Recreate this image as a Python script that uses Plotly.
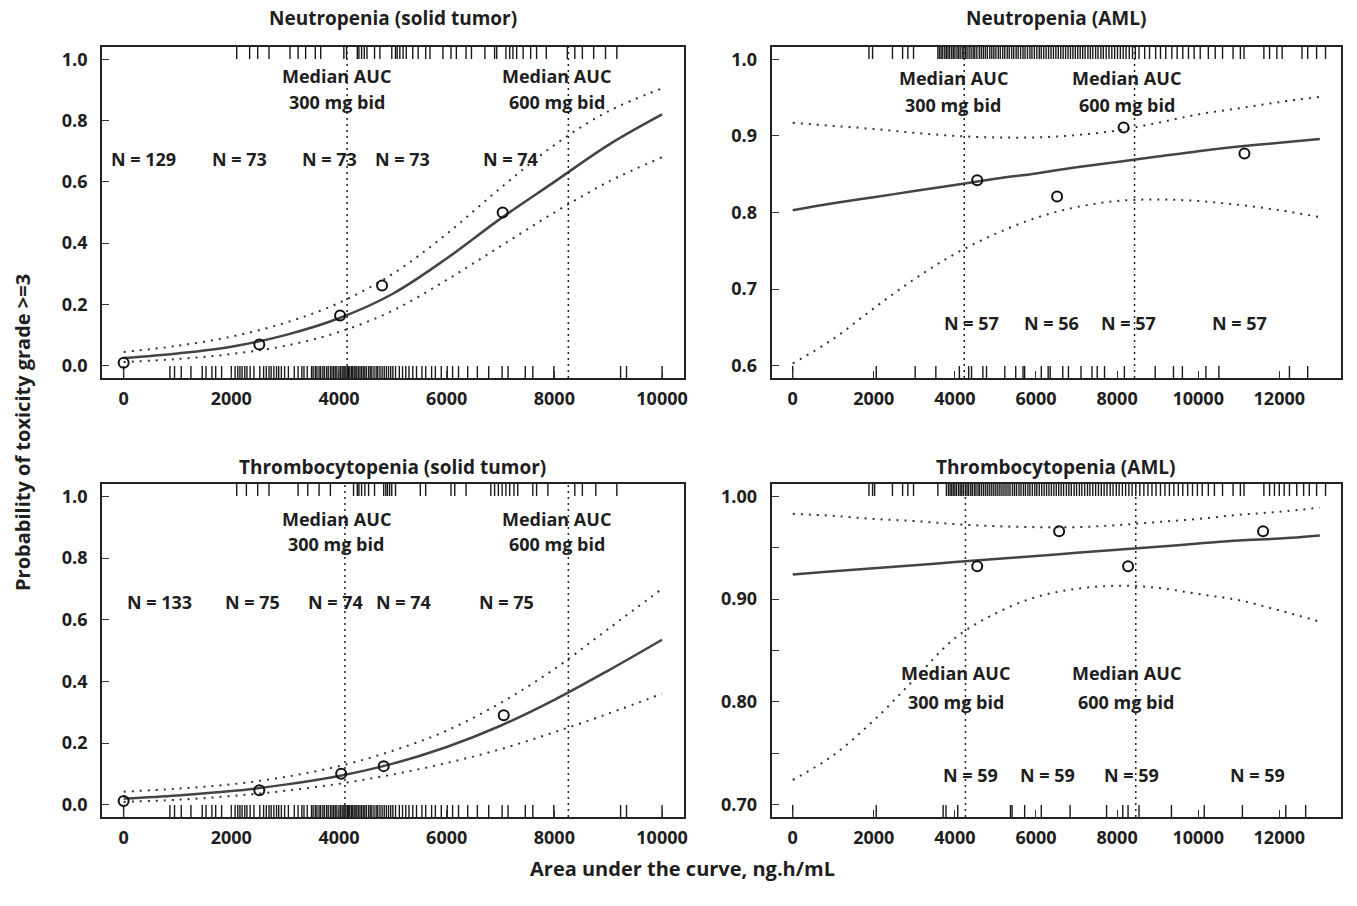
import plotly.graph_objects as go

# ---------------- DATA ----------------
# Fitted curves (at regular AUC steps)
solid_x = [0, 1000, 2000, 3000, 4000, 5000, 6000, 7000, 8000, 9000, 10000]
neut_solid_fit = [0.025, 0.040, 0.062, 0.10, 0.155, 0.235, 0.35, 0.48, 0.60, 0.72, 0.82]
neut_solid_hi = [0.045, 0.065, 0.095, 0.14, 0.205, 0.30, 0.43, 0.58, 0.72, 0.83, 0.905]
neut_solid_lo = [0.012, 0.022, 0.038, 0.065, 0.11, 0.18, 0.28, 0.39, 0.50, 0.60, 0.68]
thr_solid_fit = [0.020, 0.030, 0.044, 0.065, 0.093, 0.133, 0.187, 0.256, 0.34, 0.435, 0.535]
thr_solid_hi = [0.042, 0.052, 0.066, 0.09, 0.125, 0.175, 0.24, 0.33, 0.44, 0.57, 0.70]
thr_solid_lo = [0.009, 0.016, 0.028, 0.045, 0.068, 0.098, 0.135, 0.18, 0.235, 0.295, 0.36]

aml_x = [0, 1000, 2000, 3000, 4000, 5000, 6000, 7000, 8000, 9000, 10000, 11000, 12000, 13000]
neut_aml_fit = [0.803, 0.812, 0.820, 0.828, 0.836, 0.844, 0.851, 0.859, 0.866, 0.873, 0.880, 0.886, 0.891, 0.896]
neut_aml_hi = [0.917, 0.913, 0.909, 0.904, 0.900, 0.898, 0.898, 0.901, 0.907, 0.917, 0.928, 0.936, 0.944, 0.951]
neut_aml_lo = [0.603, 0.635, 0.675, 0.713, 0.746, 0.772, 0.793, 0.807, 0.815, 0.817, 0.815, 0.810, 0.803, 0.794]
thr_aml_fit = [0.924, 0.927, 0.930, 0.933, 0.936, 0.939, 0.942, 0.945, 0.948, 0.951, 0.954, 0.957, 0.959, 0.962]
thr_aml_hi = [0.983, 0.981, 0.978, 0.976, 0.973, 0.971, 0.970, 0.970, 0.972, 0.975, 0.978, 0.982, 0.985, 0.989]
thr_aml_lo = [0.724, 0.748, 0.782, 0.822, 0.862, 0.886, 0.902, 0.910, 0.913, 0.911, 0.905, 0.899, 0.889, 0.878]

# Observed proportions per AUC group
neut_solid_obs_x = [0, 2520, 4020, 4800, 7040]
neut_solid_obs_y = [0.01, 0.069, 0.164, 0.262, 0.50]
thr_solid_obs_x = [0, 2520, 4040, 4830, 7060]
thr_solid_obs_y = [0.012, 0.047, 0.10, 0.125, 0.29]
neut_aml_obs_x = [4550, 6520, 8160, 11140]
neut_aml_obs_y = [0.842, 0.821, 0.911, 0.877]
thr_aml_obs_x = [4550, 6570, 8270, 11600]
thr_aml_obs_y = [0.932, 0.966, 0.932, 0.966]

# Median AUC reference lines
neut_solid_medians = [4150, 8260]
thr_solid_medians = [4110, 8260]
neut_aml_medians = [4230, 8430]
thr_aml_medians = [4260, 8460]

# N labels
neut_solid_n = ["N = 129", "N = 73", "N = 73", "N = 73", "N = 74"]
thr_solid_n = ["N = 133", "N = 75", "N = 74", "N = 74", "N = 75"]
neut_aml_n = ["N = 57", "N = 56", "N = 57", "N = 57"]
thr_aml_n = ["N = 59", "N = 59", "N = 59", "N = 59"]

# Individual AUCs (rugs): events on top, non-events at bottom
neut_solid_events = [2100, 2340, 2490, 2700, 3090, 3240, 3380, 3560, 3660, 4090, 4140, 4340, 4370,
                     4420, 4470, 4520, 4660, 4760, 4980, 5050, 5080, 5130, 5190, 5250, 5370, 5470,
                     5610, 5690, 5930, 6080, 6180, 6360, 6460, 6710, 6890, 6930, 7100, 7170, 7230,
                     7300, 7420, 7560, 7670, 7850, 8240, 8380, 8520, 8730, 8950, 9160]
solid_nonevents = [0, 860, 945, 1070, 1250, 1460, 1530, 1640, 1710, 1820, 2000, 2070, 2120, 2160,
                   2200, 2250, 2290, 2350, 2420, 2530, 2600, 2650, 2700, 2740, 2790, 2840, 2880,
                   2930, 2990, 3060, 3170, 3240, 3310, 3350, 3410, 3490, 3520, 3560, 3590, 3630,
                   3660, 3700, 3730, 3770, 3800, 3840, 3870, 3900, 3930, 3960, 4000, 4030, 4060,
                   4090, 4110, 4130, 4160, 4180, 4200, 4230, 4250, 4280, 4300, 4330, 4360, 4390,
                   4420, 4450, 4480, 4510, 4550, 4580, 4610, 4650, 4690, 4720, 4760, 4800, 4840,
                   4880, 4920, 4960, 5000, 5050, 5120, 5180, 5240, 5300, 5370, 5440, 5540, 5610,
                   5720, 5790, 5900, 6010, 6110, 6220, 6390, 6570, 6780, 7030, 7140, 7460, 7600,
                   7990, 9230, 9340, 10000]
thr_solid_events = [2100, 2280, 2490, 2700, 3240, 3420, 3630, 3840, 4270, 4340, 4370, 4420, 4480,
                    4550, 4660, 4830, 4870, 4900, 4940, 4980, 5050, 5510, 5610, 6080, 6150, 6360,
                    6820, 6890, 6960, 7030, 7100, 7170, 7250, 7320, 7600, 7670, 7880, 8380, 8520,
                    8770, 9160]
neut_aml_events = [1880, 1970, 2460, 2710, 2840, 2980, 3580, 3620, 3660, 3700, 3750, 3790, 3830,
                   3870, 3920, 3960, 4000, 4050, 4090, 4130, 4180, 4220, 4260, 4300, 4350, 4400,
                   4450, 4490, 4540, 4600, 4650, 4700, 4750, 4800, 4860, 4910, 4960, 5010, 5070,
                   5120, 5180, 5230, 5290, 5340, 5400, 5450, 5510, 5560, 5620, 5680, 5730, 5790,
                   5850, 5900, 5960, 6020, 6080, 6130, 6190, 6250, 6310, 6370, 6430, 6490, 6550,
                   6610, 6670, 6730, 6790, 6850, 6910, 6970, 7030, 7090, 7150, 7210, 7280, 7340,
                   7400, 7470, 7530, 7600, 7660, 7730, 7800, 7870, 7940, 8010, 8080, 8150, 8220,
                   8300, 8380, 8450, 8540, 8680, 8800, 8950, 9070, 9200, 9350, 9480, 9620, 9760,
                   9900, 10050, 10250, 10420, 10600, 10860, 11040, 11130, 11620, 11760, 11940,
                   12070, 12560, 12700, 12920, 13140]
neut_aml_nonevents = [0, 2060, 3020, 3530, 4110, 4340, 4410, 4690, 4780, 5230, 5500, 5680, 5720,
                      6130, 6300, 6350, 6660, 6800, 7110, 7380, 7510, 7690, 8180, 8940, 9390, 9610,
                      10190, 10510, 12250, 12700]
thr_aml_events = [1880, 1970, 2020, 2460, 2710, 2840, 2980, 3580, 3790, 3840, 3880, 3920, 3960,
                  4000, 4040, 4090, 4130, 4170, 4210, 4260, 4300, 4340, 4390, 4430, 4480, 4520,
                  4570, 4610, 4660, 4710, 4760, 4810, 4860, 4910, 4960, 5010, 5060, 5110, 5160,
                  5210, 5260, 5310, 5360, 5420, 5470, 5520, 5580, 5630, 5690, 5740, 5800, 5850,
                  5910, 5970, 6020, 6080, 6140, 6200, 6260, 6320, 6380, 6440, 6500, 6560, 6620,
                  6680, 6750, 6810, 6870, 6940, 7000, 7070, 7130, 7200, 7270, 7330, 7400, 7470,
                  7540, 7610, 7680, 7750, 7830, 7900, 7980, 8050, 8130, 8210, 8290, 8370, 8460,
                  8560, 8660, 8760, 8860, 8960, 9070, 9180, 9290, 9400, 9510, 9620, 9740, 9860,
                  9980, 10100, 10250, 10400, 10600, 10860, 11040, 11130, 11620, 11760, 11880,
                  12000, 12120, 12250, 12430, 12600, 12740, 12920, 13140]
thr_aml_nonevents = [0, 2060, 3710, 3780, 4070, 5370, 5410, 5720, 6130, 6840, 7740, 8140, 8270,
                     8540, 9340, 10150, 11090, 12160, 12650]

panel_titles = ["Neutropenia (solid tumor)", "Neutropenia (AML)",
                "Thrombocytopenia (solid tumor)", "Thrombocytopenia (AML)"]

# ---------------- LAYOUT / STYLE ----------------
W, H = 1357, 906
FONT = "Open Sans"
WEIGHT = 700
TXT = "#1e1e1e"
LINE = "#444444"

panels = [
    dict(ax="x", ay="y", xr=[-400, 10400], yr=[-0.04, 1.04],
         xdom=[102.4, 685.6], ydom=[47, 378],
         xt=[0, 2000, 4000, 6000, 8000, 10000],
         yt=[0.0, 0.2, 0.4, 0.6, 0.8, 1.0], ytt=["0.0", "0.2", "0.4", "0.6", "0.8", "1.0"],
         fx=solid_x, fit=neut_solid_fit, hi=neut_solid_hi, lo=neut_solid_lo,
         ox=neut_solid_obs_x, oy=neut_solid_obs_y, med=neut_solid_medians,
         ev=neut_solid_events, nev=solid_nonevents,
         n=neut_solid_n, nx=[370, 2150, 3815, 5185, 7185], ny=0.675,
         mx=[3960, 8040], my=[0.944, 0.859]),
    dict(ax="x2", ay="y2", xr=[-520, 13520], yr=[0.584, 1.016],
         xdom=[773.9, 1344.9], ydom=[47, 378],
         xt=[0, 2000, 4000, 6000, 8000, 10000, 12000],
         yt=[0.6, 0.7, 0.8, 0.9, 1.0], ytt=["0.6", "0.7", "0.8", "0.9", "1.0"],
         fx=aml_x, fit=neut_aml_fit, hi=neut_aml_hi, lo=neut_aml_lo,
         ox=neut_aml_obs_x, oy=neut_aml_obs_y, med=neut_aml_medians,
         ev=neut_aml_events, nev=neut_aml_nonevents,
         n=neut_aml_n, nx=[4400, 6390, 8290, 11020], ny=0.656,
         mx=[3960, 8240], my=[0.975, 0.940]),
    dict(ax="x3", ay="y3", xr=[-400, 10400], yr=[-0.04, 1.04],
         xdom=[102.4, 685.6], ydom=[484, 817],
         xt=[0, 2000, 4000, 6000, 8000, 10000],
         yt=[0.0, 0.2, 0.4, 0.6, 0.8, 1.0], ytt=["0.0", "0.2", "0.4", "0.6", "0.8", "1.0"],
         fx=solid_x, fit=thr_solid_fit, hi=thr_solid_hi, lo=thr_solid_lo,
         ox=thr_solid_obs_x, oy=thr_solid_obs_y, med=thr_solid_medians,
         ev=thr_solid_events, nev=solid_nonevents,
         n=thr_solid_n, nx=[670, 2390, 3940, 5190, 7110], ny=0.656,
         mx=[3950, 8040], my=[0.925, 0.844]),
    dict(ax="x4", ay="y4", xr=[-520, 13520], yr=[0.688, 1.012],
         xdom=[773.9, 1344.9], ydom=[484, 817],
         xt=[0, 2000, 4000, 6000, 8000, 10000, 12000],
         yt=[0.70, 0.75, 0.80, 0.85, 0.90, 0.95, 1.00],
         ytt=["0.70", "", "0.80", "", "0.90", "", "1.00"],
         fx=aml_x, fit=thr_aml_fit, hi=thr_aml_hi, lo=thr_aml_lo,
         ox=thr_aml_obs_x, oy=thr_aml_obs_y, med=thr_aml_medians,
         ev=thr_aml_events, nev=thr_aml_nonevents,
         n=thr_aml_n, nx=[4380, 6290, 8350, 11470], ny=0.729,
         mx=[4020, 8220], my=[0.828, 0.800]),
]

fig = go.Figure()
annotations = []
shapes = []
layout_axes = {}
afont = dict(family=FONT, size=18, color=TXT, weight=WEIGHT)
tfont = dict(family=FONT, size=19, color=TXT, weight=WEIGHT)

for i, p in enumerate(panels):
    xa, ya = p["ax"], p["ay"]
    y0, y1 = p["yr"]
    span = y1 - y0
    rug_h = 0.036 * span

    # rugs
    rx, ry = [], []
    for v in p["ev"]:
        rx += [v, v, None]
        ry += [y1, y1 - rug_h, None]
    for v in p["nev"]:
        rx += [v, v, None]
        ry += [y0, y0 + rug_h, None]
    fig.add_trace(go.Scatter(x=rx, y=ry, mode="lines", xaxis=xa, yaxis=ya,
                             line=dict(color="#1a1a1a", width=1.4), hoverinfo="skip",
                             showlegend=False))
    # CI
    for arr in (p["hi"], p["lo"]):
        fig.add_trace(go.Scatter(x=p["fx"], y=arr, mode="lines", xaxis=xa, yaxis=ya,
                                 line=dict(color="#333333", width=2, dash="2px,6px",
                                           shape="spline"),
                                 showlegend=False))
    # fit
    fig.add_trace(go.Scatter(x=p["fx"], y=p["fit"], mode="lines", xaxis=xa, yaxis=ya,
                             line=dict(color=LINE, width=2.5, shape="spline"),
                             showlegend=False))
    # observed
    fig.add_trace(go.Scatter(x=p["ox"], y=p["oy"], mode="markers", xaxis=xa, yaxis=ya,
                             marker=dict(symbol="circle-open", size=10, color="#111111",
                                         line=dict(width=2, color="#111111")),
                             showlegend=False))
    # median lines
    for m in p["med"]:
        shapes.append(dict(type="line", xref=xa, yref=ya + " domain", x0=m, x1=m, y0=0, y1=1,
                           line=dict(color="#222222", width=1.5, dash="2px,4px")))
    # texts
    for lab, x in zip(p["n"], p["nx"]):
        annotations.append(dict(x=x, y=p["ny"], xref=xa, yref=ya, text=lab, showarrow=False,
                                font=afont, xanchor="center", yanchor="middle"))
    for k, mx in enumerate(p["mx"]):
        annotations.append(dict(x=mx, y=p["my"][0], xref=xa, yref=ya, text="Median AUC",
                                showarrow=False, font=afont, yanchor="middle"))
        annotations.append(dict(x=mx, y=p["my"][1], xref=xa, yref=ya,
                                text=("300 mg bid" if k == 0 else "600 mg bid"),
                                showarrow=False, font=afont, yanchor="middle"))
    # title
    xd = [p["xdom"][0] / W, p["xdom"][1] / W]
    yd = [1 - p["ydom"][1] / H, 1 - p["ydom"][0] / H]
    annotations.append(dict(x=(xd[0] + xd[1]) / 2, y=1 - (18 if i < 2 else 467) / H,
                            xref="paper", yref="paper", text=panel_titles[i], showarrow=False,
                            font=tfont, xanchor="center", yanchor="middle"))

    tickfont = dict(family=FONT, size=18, color=TXT, weight=WEIGHT)
    common = dict(showgrid=False, zeroline=False, showline=True, linecolor="#222222",
                  linewidth=2, mirror=True, ticks="inside", ticklen=7, tickwidth=1.2,
                  tickcolor="#333333", tickfont=tickfont)
    suffix = "" if i == 0 else str(i + 1)
    layout_axes["xaxis" + suffix] = dict(domain=xd, range=p["xr"], anchor=ya,
                                         tickvals=p["xt"], ticktext=[str(t) for t in p["xt"]],
                                         ticklabelstandoff=3, **common)
    layout_axes["yaxis" + suffix] = dict(domain=yd, range=p["yr"], anchor=xa,
                                         tickvals=p["yt"], ticktext=p["ytt"],
                                         ticklabelstandoff=9, **common)

annotations.append(dict(x=22 / W, y=1 - 432 / H, xref="paper", yref="paper",
                        text="Probability of toxicity grade >=3", textangle=-90,
                        xanchor="center", yanchor="middle",
                        showarrow=False, font=dict(family=FONT, size=20, color=TXT, weight=WEIGHT)))
annotations.append(dict(x=685 / W, y=1 - 868 / H, xref="paper", yref="paper",
                        text="Area under the curve, ng.h/mL",
                        xanchor="center", yanchor="middle",
                        showarrow=False, font=dict(family=FONT, size=20, color=TXT, weight=WEIGHT)))

fig.update_layout(width=W, height=H, margin=dict(l=0, r=0, t=0, b=0),
                  plot_bgcolor="white", paper_bgcolor="white",
                  annotations=annotations, shapes=shapes, showlegend=False,
                  **layout_axes)

fig.write_html("out.html")
